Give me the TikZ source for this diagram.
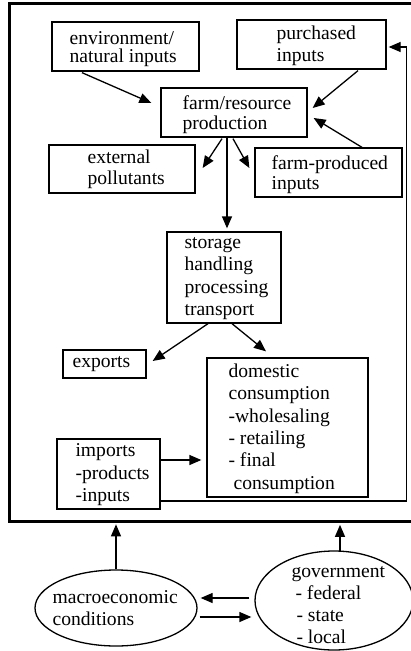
\documentclass[tikz,border=0pt]{standalone}
\usepackage{fontspec}
\setmainfont{Liberation Serif}
\usetikzlibrary{arrows.meta,calc,shapes.geometric}
\begin{document}
\begin{tikzpicture}[x=1pt,y=-1pt,
  box/.style={draw,line width=1.3pt,inner sep=0pt},
  oval/.style={ellipse,draw,line width=1.3pt,inner sep=0pt},
  txt/.style={inner sep=0pt,align=left,anchor=west,font=\fontsize{19.6}{22}\selectfont},
  arr/.style={line width=1.3pt,-{Triangle[length=12pt,width=10pt]}},
  frame/.style={line width=3pt}]
\useasboundingbox (0,0) rectangle (411,651);
% outer frame
\coordinate (ftr) at (416,3);
\coordinate (ftl) at (9,3);
\coordinate (fbl) at (9,521);
\coordinate (fbr) at (416,521);
\draw[frame] (ftr) -- (ftl) -- (fbl) -- (fbr);
% boxes
\node[box,minimum width=147pt,minimum height=49pt] (env) at (125.5,46.5) {};
\node[box,minimum width=149pt,minimum height=49pt] (pur) at (311.5,44.5) {};
\node[box,minimum width=146pt,minimum height=49pt] (farm) at (234,112.5) {};
\node[box,minimum width=146pt,minimum height=48pt] (ext) at (122,169) {};
\node[box,minimum width=147pt,minimum height=49pt] (fp) at (328.5,172.5) {};
\node[box,minimum width=114pt,minimum height=91pt] (sto) at (224,277.5) {};
\node[box,minimum width=83pt,minimum height=28pt] (exp) at (104.5,364) {};
\node[box,minimum width=161pt,minimum height=139pt] (dom) at (287.5,427.5) {};
\node[box,minimum width=103pt,minimum height=70pt] (imp) at (108.5,474) {};
\node[oval,minimum width=162pt,minimum height=76pt] (macro) at (116,608) {};
\node[oval,minimum width=158pt,minimum height=99pt] (gov) at (334,600.5) {};
% texts
\node[txt,font=\fontsize{19.6}{18}\selectfont] (envt) at ($(env.west)+(18,3)$) {environment/\\natural inputs};
\node[txt] (purt) at ($(pur.west)+(40,1)$) {purchased\\inputs};
\node[txt,font=\fontsize{19.6}{20}\selectfont] (farmt) at ($(farm.west)+(22,2)$) {farm/resource\\production};
\node[txt,font=\fontsize{19.6}{21}\selectfont] (extt) at ($(ext.west)+(39,0)$) {external\\pollutants};
\node[txt,font=\fontsize{19.6}{20}\selectfont] (fpt) at ($(fp.west)+(17,2)$) {farm-produced\\inputs};
\node[txt,font=\fontsize{19.6}{22.4}\selectfont] (stot) at ($(sto.west)+(18,1)$) {storage\\handling\\processing\\transport};
\node[txt] (expt) at ($(exp.west)+(10,0)$) {exports};
\node[txt,font=\fontsize{19.6}{22.4}\selectfont] (domt) at ($(dom.west)+(22,1)$) {domestic\\consumption\\-wholesaling\\- retailing\\- final\\\hspace{5pt}consumption};
\node[txt,font=\fontsize{19.6}{22.5}\selectfont] (impt) at ($(imp.west)+(19,1)$) {imports\\-products\\-inputs};
\node[txt,font=\fontsize{19.6}{21.5}\selectfont] (macrot) at ($(macro.west)+(18,0)$) {macroeconomic\\conditions};
\node[txt,font=\fontsize{19.6}{22}\selectfont] (govt) at ($(gov.west)+(37,4.5)$) {government\\\hspace{4pt}- federal\\\hspace{5pt}- state\\\hspace{5pt}- local};
% connectors
\draw[arr] ($(env.south)+(-43.5,1)$) -- ($(farm.west)+(-9,-9.5)$);
\draw[arr] ($(pur.south)+(46.5,1)$) -- ($(farm.east)+(5,-4.5)$);
\draw[arr] ($(fp.north)+(33.5,0)$) -- ($(farm.east)+(6,5.5)$);
\draw[arr] ($(farm.south)+(-12,1)$) -- ($(ext.east)+(7,-1)$);
\draw[arr] ($(farm.south)+(-1,1)$) -- ($(fp.west)+(-5,-4.5)$);
\draw[arr] ($(farm.south)+(-7,0)$) -- ($(sto.north)+(3,-3)$);
\draw[arr] ($(sto.south)+(-16,0)$) -- ($(exp.east)+(6,-3)$);
\draw[arr] ($(sto.south)+(8,0)$) -- ($(dom.north)+(-21.5,-6)$);
\draw[arr] ($(imp.east)+(0,-14)$) -- ($(dom.west)+(-5,32.5)$);
\draw[arr] ($(imp.east)+(0,27)$) -- ++(246,0) |- ($(pur.east)+(2,2.5)$);
\draw[arr] (macro.north) -- ($(macro.north)+(0,-45)$);
\draw[arr] ($(gov.north)+(6,1)$) -- ($(gov.north)+(6,-25.5)$);
\draw[arr] ($(gov.west)+(-5,-2.5)$) -- ($(macro.east)+(3,-10)$);
\draw[arr] ($(macro.east)+(2,9)$) -- ($(gov.west)+(-3,16.5)$);
\end{tikzpicture}
\end{document}
